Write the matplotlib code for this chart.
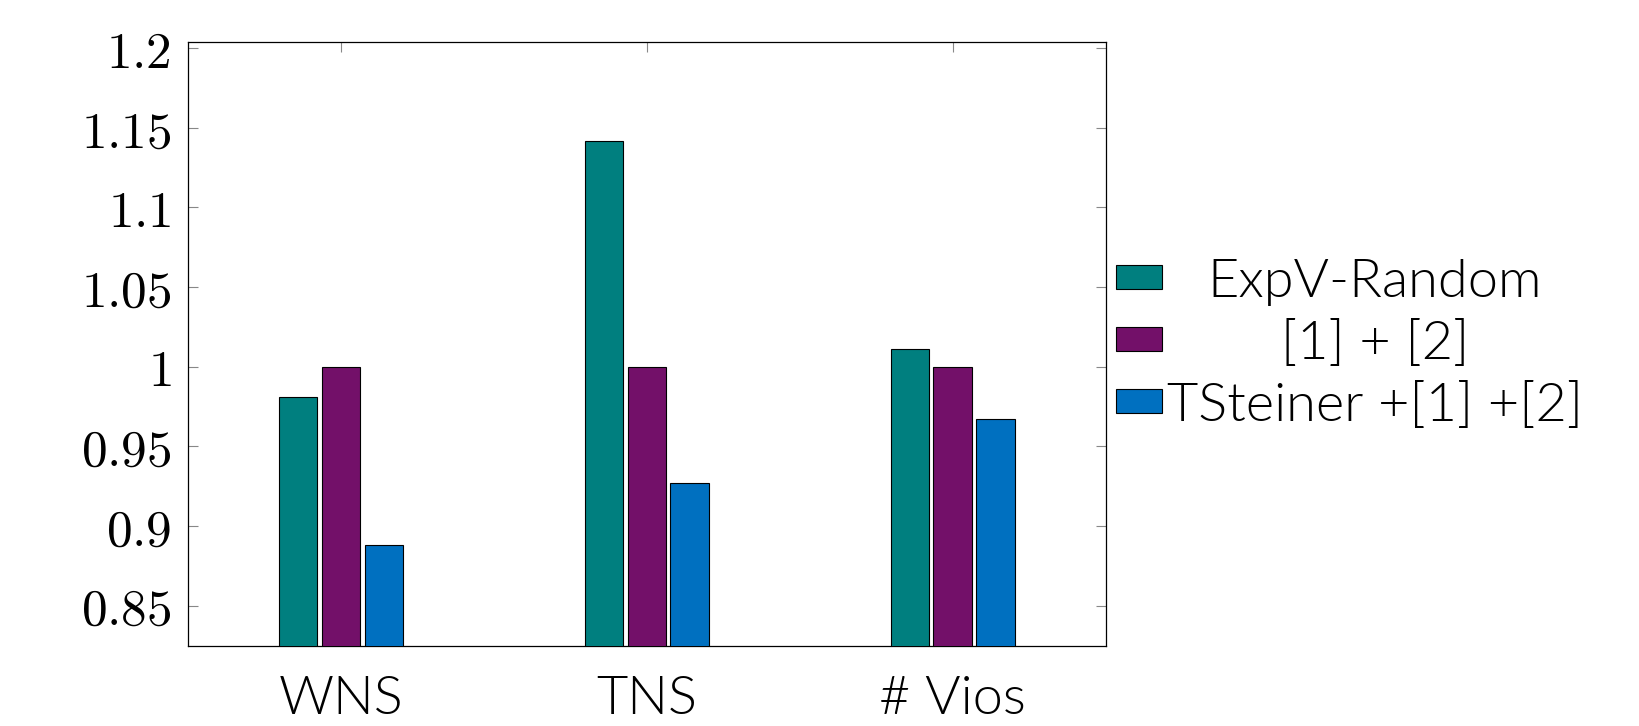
import matplotlib
matplotlib.use("Agg")
import matplotlib.pyplot as plt
import numpy as np

# data
categories = ["WNS", "TNS", "# Vios"]
series_names = ["ExpV-Random", "[1] + [2]", "TSteiner +[1] +[2]"]
expv_random = [0.981, 1.142, 1.011]
ref_12 = [1.0, 1.0, 1.0]
tsteiner = [0.888, 0.927, 0.967]
y_ticks = [0.85, 0.9, 0.95, 1.0, 1.05, 1.1, 1.15, 1.2]
y_tick_labels = ["0.85", "0.9", "0.95", "1", "1.05", "1.1", "1.15", "1.2"]

colors = ["#007f7f", "#731069", "#0070c0"]

plt.rcParams["mathtext.fontset"] = "cm"

fig = plt.figure(figsize=(16.4, 7.26), dpi=100)
ax = fig.add_axes([0.1146, 0.1097, 0.5595, 0.8327])

x = np.arange(len(categories))
width = 0.125
step = 0.14
for i, (vals, name) in enumerate(zip([expv_random, ref_12, tsteiner], series_names)):
    ax.bar(x + (i - 1) * step, vals, width, color=colors[i], edgecolor="black",
           linewidth=0.8, label=name, zorder=3)

ax.set_xlim(-0.5, 2.5)
ax.set_ylim(0.8244, 1.204)
ax.set_xticks(x)
ax.set_xticklabels(categories, fontfamily="Lato", fontweight=300, fontsize=39)
ax.set_yticks(y_ticks)
ax.set_yticklabels(["$" + s + "$" for s in y_tick_labels], fontsize=37)

ax.tick_params(axis="both", direction="in", length=7.5, width=0.8, color="#888888",
               top=True, right=True)
ax.tick_params(axis="x", pad=21)
ax.tick_params(axis="y", pad=12)
for s in ax.spines.values():
    s.set_linewidth(0.9)

leg = ax.legend(loc="center left", bbox_to_anchor=(1.0, 0.5), frameon=False,
                prop={"family": "Lato", "weight": 300, "size": 39},
                handlelength=0.85, handleheight=0.3, handletextpad=0.08,
                borderpad=0.2, borderaxespad=0.0, labelspacing=0.26)

# center the legend texts in their column
fig.canvas.draw()
r = fig.canvas.get_renderer()
texts = leg.get_texts()
widths = [t.get_window_extent(r).width for t in texts]
wmax = max(widths)
for t, w in zip(texts, widths):
    t.set_x((wmax - w) / 2)

fig.savefig("out.png", dpi=100)
